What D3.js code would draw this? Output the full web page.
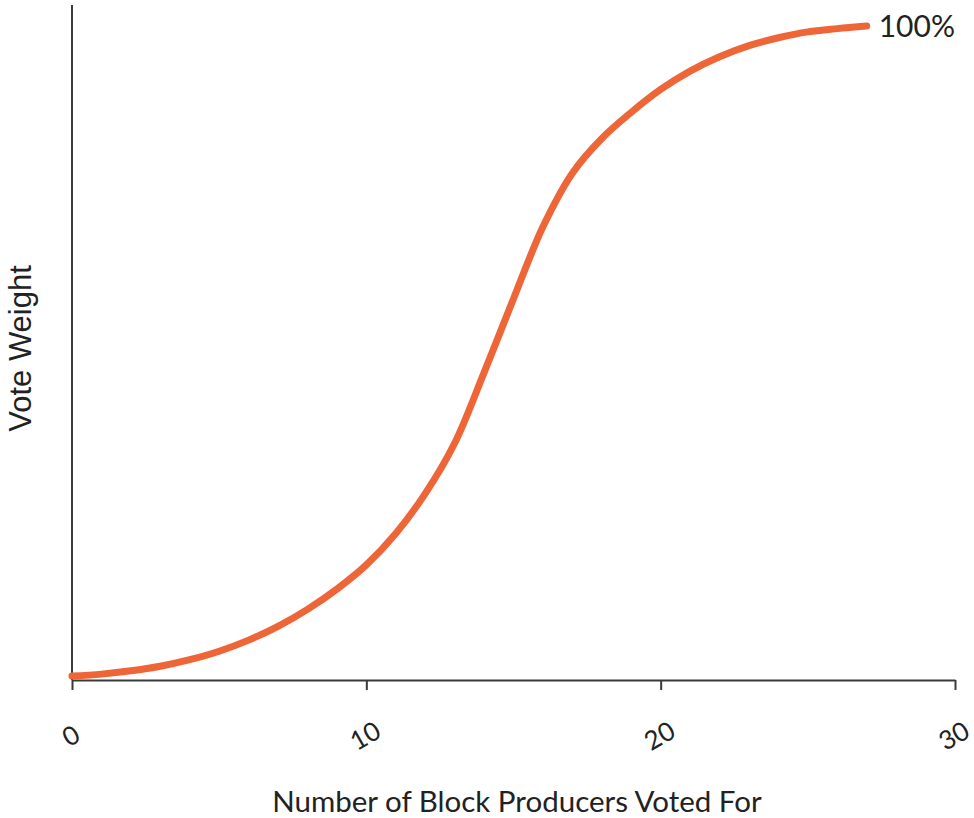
<!DOCTYPE html>
<html>
<head>
<meta charset="utf-8">
<script src="https://cdn.jsdelivr.net/npm/d3@7"></script>
<style>
  body { margin: 0; background: #fff; }
  svg { display: block; }
</style>
</head>
<body>
<div id="chart"></div>
<script>
// number of block producers voted for
var producers = [0, 1, 2, 3, 4, 5, 6, 7, 8, 9, 10, 11, 12, 13, 14, 15, 16, 17, 18, 19, 20, 21, 22, 23, 24, 25, 26, 27];
// vote weight, percent of maximum
var weight = [0.6, 0.9, 1.4, 2.1, 3.1, 4.4, 6.1, 8.2, 10.8, 13.9, 17.6, 22.4, 28.5, 36.2, 47, 58.3,
  69.3, 77.5, 82.8, 86.8, 90.3, 93.1, 95.3, 97, 98.2, 99.1, 99.6, 100];
var xTicks = [0, 10, 20, 30];
var endLabel = "100%";

var W = 974, H = 818;
var margin = { top: 5, right: 19, bottom: 138, left: 72 },
  width = W - margin.left - margin.right,
  height = H - margin.top - margin.bottom;

var x = d3.scaleLinear().domain([0, 30]).range([0, width]);
var y = d3.scaleLinear().domain([0, 100]).range([height, 21]);

var svg = d3
  .select("#chart")
  .append("svg")
  .attr("width", W)
  .attr("height", H)
  .append("g")
  .attr("transform", "translate(" + margin.left + "," + margin.top + ")");

var data = producers.map(function(d, i) {
  return { n: d, w: weight[i] };
});

// y axis line (no ticks)
svg
  .append("line")
  .attr("x1", 0)
  .attr("x2", 0)
  .attr("y1", 0)
  .attr("y2", height)
  .attr("stroke", "#3a3a3a")
  .attr("stroke-width", 2);

// x axis
var xAxis = svg
  .append("g")
  .attr("transform", "translate(0," + height + ")")
  .call(d3.axisBottom(x).tickValues(xTicks).tickSize(10).tickSizeOuter(0).tickFormat(d3.format("d")));
xAxis.select(".domain").attr("stroke", "#3a3a3a").attr("stroke-width", 2);
xAxis.selectAll(".tick line").attr("stroke", "#3a3a3a").attr("stroke-width", 2);
xAxis
  .selectAll(".tick text")
  .attr("y", 0)
  .attr("dy", 0)
  .attr("fill", "#222")
  .style("font-family", "Lato, sans-serif")
  .style("font-size", "26px")
  .style("text-anchor", "middle")
  .attr("dominant-baseline", "central")
  .attr("transform", "translate(-2,55) rotate(-30)");

// curve
var line = d3
  .line()
  .x(function(d) { return x(d.n); })
  .y(function(d) { return y(d.w); })
  .curve(d3.curveCatmullRom.alpha(0.5));

svg
  .append("path")
  .datum(data)
  .attr("fill", "none")
  .attr("stroke", "#ee6638")
  .attr("stroke-width", 7)
  .attr("stroke-linecap", "round")
  .attr("d", line);

// end label
var last = data[data.length - 1];
svg
  .append("text")
  .attr("x", x(last.n) + 12)
  .attr("y", y(last.w))
  .attr("dy", "0.36em")
  .attr("fill", "#222")
  .style("font-family", "Lato, sans-serif")
  .style("font-size", "30px")
  .text(endLabel);

// axis titles
svg
  .append("text")
  .attr("x", 445)
  .attr("y", height + 132)
  .attr("text-anchor", "middle")
  .attr("fill", "#222")
  .style("font-family", "Lato, sans-serif")
  .style("font-size", "29.5px")
  .text("Number of Block Producers Voted For");

svg
  .append("text")
  .attr("transform", "translate(-41," + (height / 2 + 6) + ") rotate(-90)")
  .attr("text-anchor", "middle")
  .attr("fill", "#222")
  .style("font-family", "'Liberation Sans', Arial, sans-serif")
  .style("font-size", "31px")
  .text("Vote Weight");
</script>
</body>
</html>
